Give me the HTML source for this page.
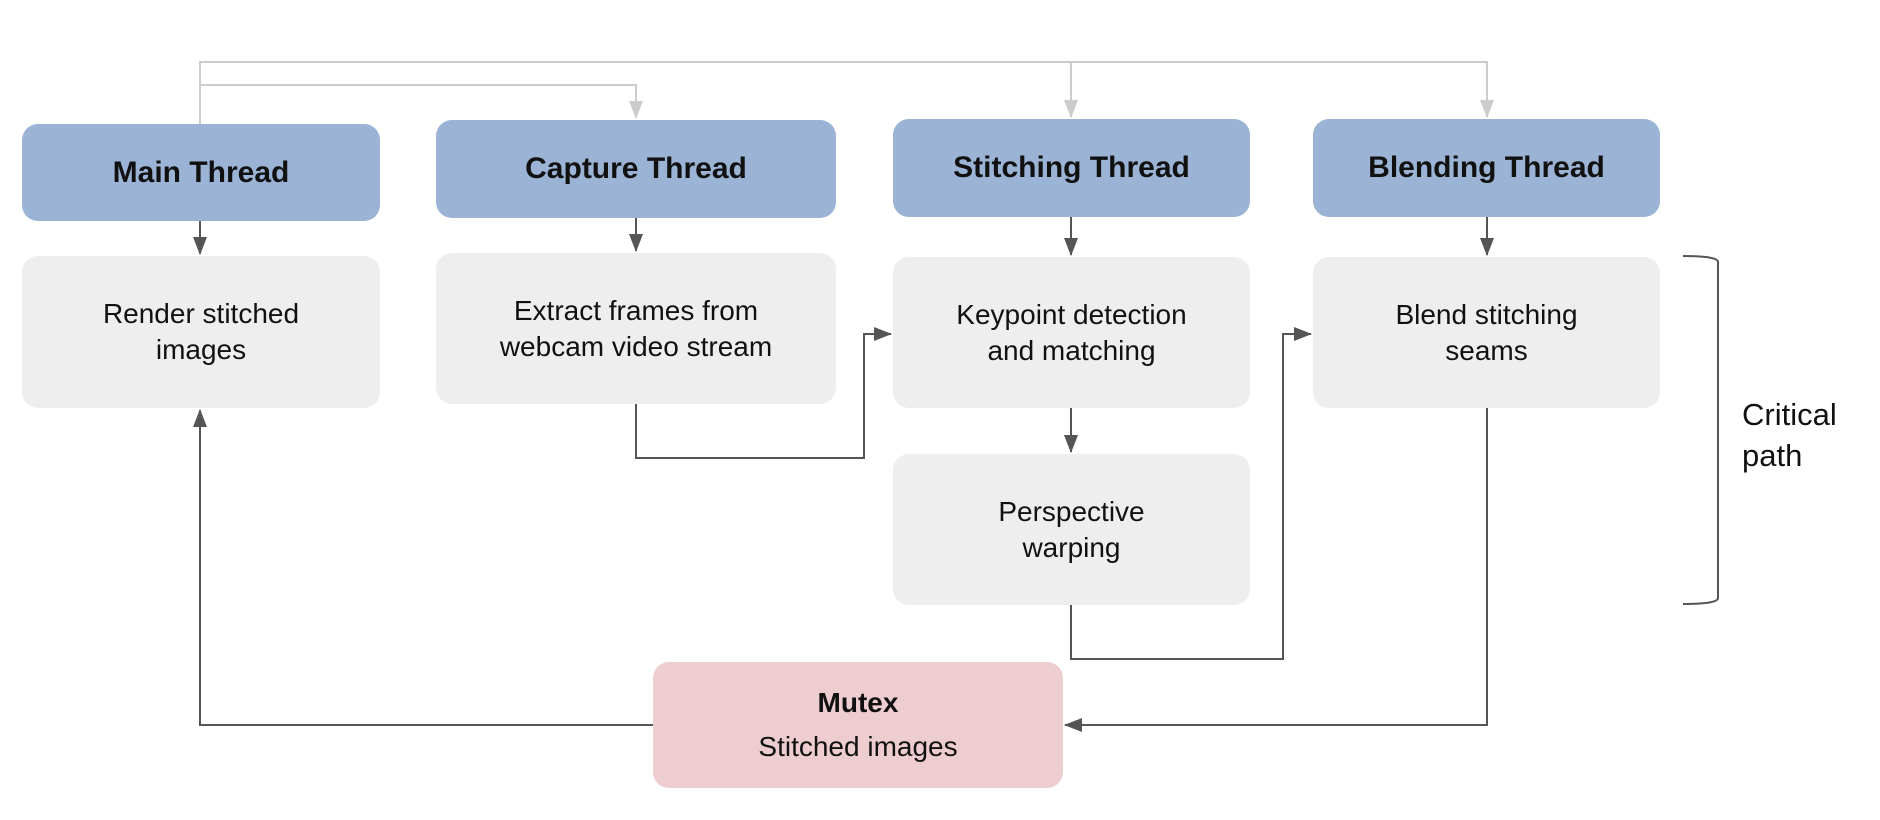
<!DOCTYPE html>
<html><head><meta charset="utf-8"><style>
html,body{margin:0;padding:0;background:#fff;}
body{width:1880px;height:820px;position:relative;overflow:hidden;font-family:"Liberation Sans",sans-serif;}
.b{position:absolute;display:flex;align-items:center;justify-content:center;text-align:center;border-radius:16px;color:#111;}
.h{background:#9bb3d4;font-weight:bold;font-size:30px;}
.g{background:#eeeeee;font-size:28px;line-height:36px;}
.m{background:#eecdd0;font-size:28px;flex-direction:column;}
svg{position:absolute;left:0;top:0;}
</style></head><body>
<svg width="1880" height="820">
<defs>
<marker id="d" markerWidth="18" markerHeight="14" refX="17" refY="7" orient="auto" markerUnits="userSpaceOnUse"><path d="M0,0 L18,7 L0,14 z" fill="#555"/></marker>
<marker id="l" markerWidth="18" markerHeight="14" refX="17" refY="7" orient="auto" markerUnits="userSpaceOnUse"><path d="M0,0 L18,7 L0,14 z" fill="#ccc"/></marker>
</defs>
<g fill="none" stroke="#ccc" stroke-width="2">
<polyline points="200,124 200,62 1487,62 1487,117" marker-end="url(#l)"/>
<polyline points="1071,62 1071,117" marker-end="url(#l)"/>
<polyline points="200,85 636,85 636,118" marker-end="url(#l)"/>
</g>
<g fill="none" stroke="#555" stroke-width="2">
<polyline points="200,221 200,254" marker-end="url(#d)"/>
<polyline points="636,218 636,251" marker-end="url(#d)"/>
<polyline points="1071,217 1071,255" marker-end="url(#d)"/>
<polyline points="1487,217 1487,255" marker-end="url(#d)"/>
<polyline points="1071,408 1071,452" marker-end="url(#d)"/>
<polyline points="636,404 636,458 864,458 864,334 891,334" marker-end="url(#d)"/>
<polyline points="1071,605 1071,659 1283,659 1283,334 1311,334" marker-end="url(#d)"/>
<polyline points="1487,408 1487,725 1065,725" marker-end="url(#d)"/>
<polyline points="653,725 200,725 200,410" marker-end="url(#d)"/>
<path d="M1683,256 Q1718,256 1718,262 L1718,598 Q1718,604 1683,604"/>
</g>
<text x="1742" y="425" font-size="31" fill="#111">Critical</text>
<text x="1742" y="466" font-size="31" fill="#111">path</text>
</svg>
<div class="b h" style="left:22px;top:124px;width:358px;height:97px">Main Thread</div>
<div class="b h" style="left:436px;top:120px;width:400px;height:98px">Capture Thread</div>
<div class="b h" style="left:893px;top:119px;width:357px;height:98px">Stitching Thread</div>
<div class="b h" style="left:1313px;top:119px;width:347px;height:98px">Blending Thread</div>
<div class="b g" style="left:22px;top:256px;width:358px;height:152px">Render stitched<br>images</div>
<div class="b g" style="left:436px;top:253px;width:400px;height:151px">Extract frames from<br>webcam video stream</div>
<div class="b g" style="left:893px;top:257px;width:357px;height:151px">Keypoint detection<br>and matching</div>
<div class="b g" style="left:1313px;top:257px;width:347px;height:151px">Blend stitching<br>seams</div>
<div class="b g" style="left:893px;top:454px;width:357px;height:151px">Perspective<br>warping</div>
<div class="b m" style="left:653px;top:662px;width:410px;height:126px"><div style="font-weight:bold;line-height:44px">Mutex</div><div style="line-height:44px">Stitched images</div></div>
</body></html>
